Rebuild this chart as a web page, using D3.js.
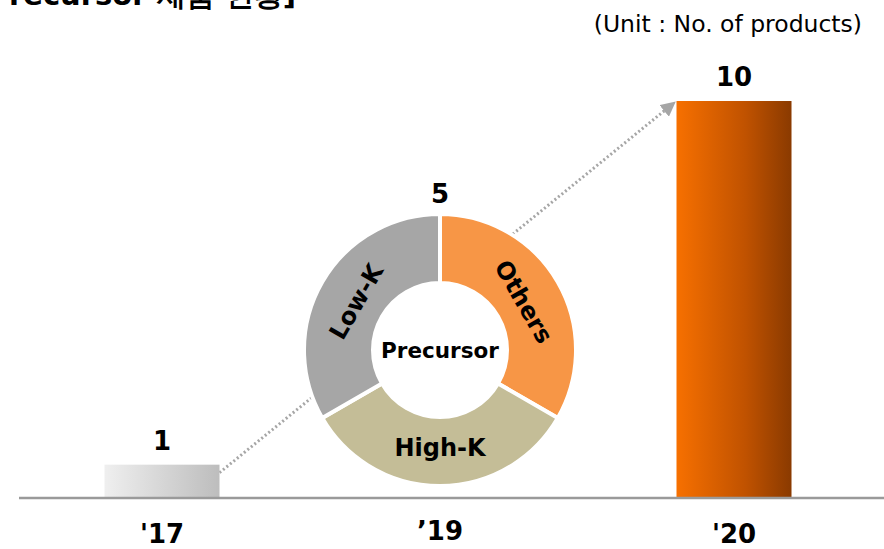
<!DOCTYPE html>
<html><head><meta charset="utf-8">
<script src="https://cdn.jsdelivr.net/npm/d3@7"></script>
<style>
html,body{margin:0;padding:0;background:#fff;}
svg{display:block;}
text{font-family:"DejaVu Sans",Verdana,sans-serif;}
</style></head>
<body>
<svg id="c" width="884" height="549"></svg>
<script>
// ---- data ----
const years = ["'17", "’19", "'20"];
const barValues = [1, null, 10];
const totalLabels = ["1", "5", "10"];
const donutCats = ["Others", "High-K", "Low-K"];
const donutValues = [1, 1, 1];
const donutColors = ["#f79646", "#c4bd97", "#a6a6a6"];
const titleText = "[Precursor 제품 현황]";
const unitText = "(Unit : No. of products)";
const centerText = "Precursor";

const W = 884, H = 549;
const svg = d3.select("#c");
const defs = svg.append("defs");

const x = d3.scaleOrdinal().domain(years).range([162, 440, 734]);
const y = d3.scaleLinear().domain([0.2, 10]).range([497, 101]);
const bw = 115;

// gradients
const g1 = defs.append("linearGradient").attr("id","gGray");
g1.append("stop").attr("offset","0%").attr("stop-color","#efefef");
g1.append("stop").attr("offset","100%").attr("stop-color","#bdbdbd");
const g2 = defs.append("linearGradient").attr("id","gOr");
g2.append("stop").attr("offset","0%").attr("stop-color","#f77000");
g2.append("stop").attr("offset","60%").attr("stop-color","#c05200");
g2.append("stop").attr("offset","100%").attr("stop-color","#8a3a00");
defs.append("marker").attr("id","arr").attr("viewBox","0 0 10 10").attr("refX",2).attr("refY",5)
  .attr("markerWidth",5).attr("markerHeight",5).attr("orient","auto").attr("markerUnits","strokeWidth")
  .append("path").attr("d","M0,0 L10,5 L0,10 Z").attr("fill","#a6a6a6");

// title (cut off at top)
svg.append("text").attr("x",296).attr("y",5).attr("text-anchor","end").attr("font-size",29).attr("font-weight","bold")
  .attr("font-family","'DejaVu Sans','Noto Sans CJK KR',sans-serif").attr("fill","#000").text(titleText);
svg.append("text").attr("x",862).attr("y",32).attr("text-anchor","end").attr("font-size",23.5)
  .attr("fill","#000").text(unitText);

// dotted arrow
const x0 = x(years[0]) + bw/2, y0 = y(barValues[0]) + 8;
const x1 = x(years[2]) - bw/2 - 10, y1 = y(barValues[2]) + 8;
svg.append("line").attr("x1",x0).attr("y1",y0).attr("x2",x1).attr("y2",y1)
  .attr("stroke","#a6a6a6").attr("stroke-width",3).attr("stroke-dasharray","2,2.5")
  .attr("marker-end","url(#arr)");

// bars
const barData = years.map((d,i)=>({y:d, v:barValues[i]})).filter(d=>d.v!=null);
svg.selectAll("rect.bar").data(barData).enter().append("rect").attr("class","bar")
  .attr("x",d=>x(d.y)-bw/2).attr("width",bw)
  .attr("y",d=>y(d.v)).attr("height",d=>y(0.2)-y(d.v))
  .attr("fill",(d,i)=>i===0?"url(#gGray)":"url(#gOr)");

// baseline
svg.append("line").attr("x1",19).attr("x2",884).attr("y1",498).attr("y2",498)
  .attr("stroke","#9a9a9a").attr("stroke-width",2.5);

// donut
const cx = x(years[1]), cy = 350, R = 136, r = 67;
const pie = d3.pie().sort(null).value(d=>d);
const arc = d3.arc().innerRadius(r).outerRadius(R);
const dg = svg.append("g").attr("transform",`translate(${cx},${cy})`);
dg.append("circle").attr("r",r).attr("fill","#fff");
const arcs = pie(donutValues);
dg.selectAll("path").data(arcs).enter().append("path").attr("d",arc)
  .attr("fill",(d,i)=>donutColors[i]).attr("stroke","#fff").attr("stroke-width",4);
const labR = 97;
dg.selectAll("text.seg").data(arcs).enter().append("text").attr("class","seg")
  .attr("transform",(d,i)=>{
    const a=(d.startAngle+d.endAngle)/2;
    const px=labR*Math.sin(a), py=-labR*Math.cos(a);
    let deg=a*180/Math.PI; if(deg>90&&deg<270) deg=0; if(deg>=270) deg-=360;
    return `translate(${px},${py}) rotate(${deg})`;
  })
  .attr("text-anchor","middle").attr("dy","0.36em").attr("font-size",24).attr("font-weight","bold")
  .attr("fill","#000").text((d,i)=>donutCats[i]);
dg.append("text").attr("text-anchor","middle").attr("dy","0.36em").attr("font-size",21.5)
  .attr("font-weight","bold").text(centerText);

// value labels
svg.append("text").attr("x",x(years[0])).attr("y",y(barValues[0])-15).attr("text-anchor","middle")
  .attr("font-size",26).attr("font-weight","bold").text(totalLabels[0]);
svg.append("text").attr("x",cx).attr("y",cy-R-11).attr("text-anchor","middle")
  .attr("font-size",26).attr("font-weight","bold").text(totalLabels[1]);
svg.append("text").attr("x",x(years[2])).attr("y",y(barValues[2])-15).attr("text-anchor","middle")
  .attr("font-size",26).attr("font-weight","bold").text(totalLabels[2]);

// category labels
svg.selectAll("text.cat").data(years).enter().append("text").attr("class","cat")
  .attr("x",d=>x(d)).attr("y",(d,i)=>i===1?540:543).attr("text-anchor","middle")
  .attr("font-size",26).attr("font-weight","bold").text(d=>d);
</script>
</body></html>
